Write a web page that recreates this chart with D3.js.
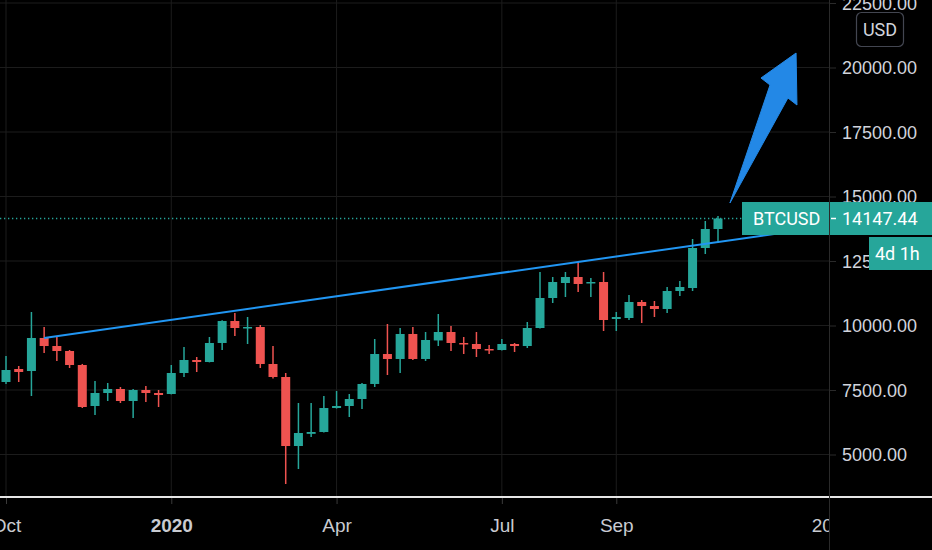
<!DOCTYPE html>
<html>
<head>
<meta charset="utf-8">
<script src="https://cdn.jsdelivr.net/npm/d3@7"></script>
<style>
  html, body { margin: 0; padding: 0; background: #000; }
  svg { display: block; font-family: Roboto, "Noto Sans", sans-serif; }
</style>
</head>
<body>
<svg id="chart" width="932" height="550"></svg>
<script>
// weekly BTCUSD bars, first bar week of 7 Oct 2019
const firstBar = new Date(2019, 9, 7);
const lastBar = new Date(2020, 10, 2);

const opens = [7810, 8314, 8236, 9516, 9205, 9012, 8469, 6880, 7384, 7539, 7074, 7500, 7384,
    7345, 8159, 8663, 8585, 9322, 10174, 9903, 9942, 8508, 8004, 5329, 5800, 5872, 6802, 6880,
    7151, 7733, 8895, 8702, 9671, 8702, 9420, 9748, 9322, 9283, 9089, 9050, 9283, 9205, 9903,
    11066, 11647, 11880, 11647, 11686, 10252, 10291, 10911, 10756, 10640, 11337, 11453, 13004, 13740];
const highs = [8818, 8430, 10523, 9942, 9593, 9050, 8510, 7849, 7771, 7616, 7539, 7655, 7500,
    8469, 9167, 8779, 9554, 10200, 10484, 10329, 10019, 9205, 8159, 6996, 6996, 7267, 7461, 7345,
    7771, 9477, 10058, 9903, 9942, 9748, 10446, 9981, 9554, 9748, 9244, 9477, 9322, 10136, 12074,
    11880, 12074, 12461, 11841, 12074, 10523, 11182, 10988, 10950, 11492, 11725, 13353, 14050, 14244];
const lows = [7733, 7810, 7267, 8934, 8624, 8353, 6802, 6531, 7074, 6996, 6415, 7035, 6841,
    7330, 8004, 8198, 8570, 9050, 9593, 9283, 8353, 7950, 3857, 4438, 5678, 5850, 6780, 6453,
    6764, 7616, 8081, 8159, 8663, 8624, 9205, 9012, 8895, 8779, 8895, 9030, 8973, 9128, 9880,
    10872, 11105, 11298, 11105, 9787, 9787, 10213, 10097, 10329, 10484, 11143, 11337, 12771, 13198];
const closes = [8275, 8198, 9516, 9205, 9012, 8469, 6841, 7384, 7539, 7074, 7500, 7384, 7306,
    8159, 8663, 8585, 9322, 10174, 9903, 9942, 8508, 8004, 5329, 5833, 5872, 6802, 6880, 7151,
    7733, 8895, 8702, 9671, 8702, 9438, 9748, 9322, 9283, 9089, 9050, 9283, 9205, 9903, 11066,
    11686, 11880, 11609, 11686, 10213, 10329, 10911, 10756, 10640, 11337, 11492, 13004, 13740, 14147.44];

const lastPrice = 14147.44;
const timeLeft = '4d 1h';
const symbol = 'BTCUSD';
const currency = 'USD';

const dateTicks = [new Date(2019, 9, 7), new Date(2020, 0, 6), new Date(2020, 3, 6),
    new Date(2020, 6, 6), new Date(2020, 8, 7), new Date(2021, 0, 4)];
const dateLabels = ['Oct', '2020', 'Apr', 'Jul', 'Sep', '2021'];
const priceTicks = [5000, 7500, 10000, 12500, 15000, 17500, 20000, 22500];

// drawings, given as [weeks after first bar, price]
const trendLine = [[3, 9516], [60.96, 13585]];
const arrowShape = [[56.94, 14748], [60.09, 19322], [59.38, 19593], [62.14, 20562],
    [62.21, 18547], [61.5, 18818]];

const colors = { up: '#26a69a', down: '#ef5350', grid: '#1c1c1c', text: '#d1d4dc', blue: '#2196f3' };

const width = 932, height = 550;
const paneRight = 829;
const axisY = 497;

const svg = d3.select('#chart');

const bars = d3.timeMonday.range(firstBar, d3.timeDay.offset(lastBar, 1)).map((d, i) => ({
    date: d, open: opens[i], high: highs[i], low: lows[i], close: closes[i]
}));

const x = d3.scaleTime().domain([firstBar, lastBar]).range([6, 718]);
const y = d3.scaleLinear().domain([5000, 20000]).range([454.5, 67.5]);
const weekToDate = w => new Date(firstBar.getTime() + w * 7 * 864e5);

svg.append('defs').append('clipPath').attr('id', 'pane')
    .append('rect').attr('x', 0).attr('y', 0).attr('width', paneRight).attr('height', height);

const pane = svg.append('g').attr('clip-path', 'url(#pane)');

// grid
pane.append('g')
    .selectAll('line.h')
    .data(priceTicks)
    .enter().append('line')
    .attr('x1', 0).attr('x2', paneRight)
    .attr('y1', d => y(d)).attr('y2', d => y(d))
    .attr('stroke', colors.grid).attr('stroke-width', 1);

pane.append('g')
    .selectAll('line.v')
    .data(dateTicks)
    .enter().append('line')
    .attr('x1', d => x(d)).attr('x2', d => x(d))
    .attr('y1', 0).attr('y2', axisY)
    .attr('stroke', colors.grid).attr('stroke-width', 1);

// last price dotted line
pane.append('line')
    .attr('x1', 0).attr('x2', 742)
    .attr('y1', y(lastPrice)).attr('y2', y(lastPrice))
    .attr('stroke', colors.up).attr('stroke-width', 1.3)
    .attr('stroke-dasharray', '1.3 2.7');

// candles
const candle = pane.append('g')
    .selectAll('g')
    .data(bars)
    .enter().append('g')
    .attr('fill', d => d.close >= d.open ? colors.up : colors.down)
    .attr('stroke', d => d.close >= d.open ? colors.up : colors.down);

candle.append('line')
    .attr('x1', d => x(d.date)).attr('x2', d => x(d.date))
    .attr('y1', d => y(d.high)).attr('y2', d => y(d.low))
    .attr('stroke-width', 1.5);

candle.append('rect')
    .attr('x', d => x(d.date) - 4.5)
    .attr('width', 9)
    .attr('y', d => y(Math.max(d.open, d.close)))
    .attr('height', d => Math.max(1.5, Math.abs(y(d.open) - y(d.close))))
    .attr('stroke', 'none');

// trend line and arrow
pane.append('line')
    .attr('x1', x(weekToDate(trendLine[0][0]))).attr('y1', y(trendLine[0][1]))
    .attr('x2', x(weekToDate(trendLine[1][0]))).attr('y2', y(trendLine[1][1]))
    .attr('stroke', colors.blue).attr('stroke-width', 2);

pane.append('path')
    .attr('d', d3.line().x(d => x(weekToDate(d[0]))).y(d => y(d[1])).curve(d3.curveLinearClosed)(arrowShape))
    .attr('fill', '#2388e6').attr('stroke', '#2388e6').attr('stroke-width', 1).attr('stroke-linejoin', 'round');

// time axis
svg.append('line')
    .attr('x1', 0).attr('x2', width)
    .attr('y1', axisY).attr('y2', axisY)
    .attr('stroke', '#e6e6e6').attr('stroke-width', 2);

const xAxis = pane.append('g')
    .attr('transform', `translate(0,${axisY + 1})`)
    .call(d3.axisBottom(x).tickValues(dateTicks).tickFormat((d, i) => dateLabels[i]).tickSize(6).tickSizeOuter(0));
xAxis.select('.domain').remove();
xAxis.selectAll('line').attr('stroke', '#3a3a3a');
xAxis.selectAll('text')
    .attr('y', 34).attr('dy', 0)
    .attr('fill', '#c9cbd1')
    .style('font-size', '19px')
    .style('font-weight', (d, i) => dateLabels[i] === '2020' ? 'bold' : 'normal');

// price axis
svg.append('line')
    .attr('x1', paneRight + 0.5).attr('x2', paneRight + 0.5)
    .attr('y1', 0).attr('y2', height)
    .attr('stroke', '#2a2a2a').attr('stroke-width', 1);

const yAxis = svg.append('g')
    .attr('transform', `translate(${paneRight + 1},0)`)
    .call(d3.axisRight(y).tickValues(priceTicks).tickFormat(d3.format('.2f')).tickSize(6));
yAxis.select('.domain').remove();
yAxis.selectAll('line').attr('stroke', '#2a2a2a');
yAxis.selectAll('text')
    .attr('x', 12).attr('dy', '0.35em')
    .attr('fill', colors.text)
    .style('font-size', '18px');

// currency box
svg.append('rect')
    .attr('x', 856.5).attr('y', 12.5).attr('width', 47).attr('height', 34).attr('rx', 5)
    .attr('fill', '#000').attr('stroke', '#434651').attr('stroke-width', 1.2);
svg.append('text')
    .attr('x', 880).attr('y', 30).attr('dy', '0.35em')
    .attr('text-anchor', 'middle')
    .attr('fill', colors.text)
    .style('font-size', '18px')
    .text(currency);

// symbol / last price labels
const yLast = y(lastPrice);
svg.append('rect')
    .attr('x', 742).attr('y', yLast - 16.5).attr('width', paneRight - 742).attr('height', 33)
    .attr('fill', colors.up);
svg.append('text')
    .attr('x', 753).attr('y', yLast).attr('dy', '0.35em')
    .attr('fill', '#fff').style('font-size', '18px')
    .text(symbol);
svg.append('rect')
    .attr('x', paneRight + 1).attr('y', yLast - 16.5).attr('width', width - paneRight).attr('height', 33)
    .attr('fill', colors.up);
svg.append('line')
    .attr('x1', paneRight + 2).attr('x2', paneRight + 7)
    .attr('y1', yLast).attr('y2', yLast)
    .attr('stroke', '#fff').attr('stroke-width', 1.5);
svg.append('text')
    .attr('x', 842).attr('y', yLast).attr('dy', '0.35em')
    .attr('fill', '#fff').style('font-size', '18px')
    .text(d3.format('.2f')(lastPrice));

svg.append('rect')
    .attr('x', 869).attr('y', yLast + 18.5).attr('width', width - 869).attr('height', 33)
    .attr('fill', colors.up);
svg.append('text')
    .attr('x', 875).attr('y', yLast + 35).attr('dy', '0.35em')
    .attr('fill', '#fff').style('font-size', '18px')
    .text(timeLeft);
</script>
</body>
</html>
